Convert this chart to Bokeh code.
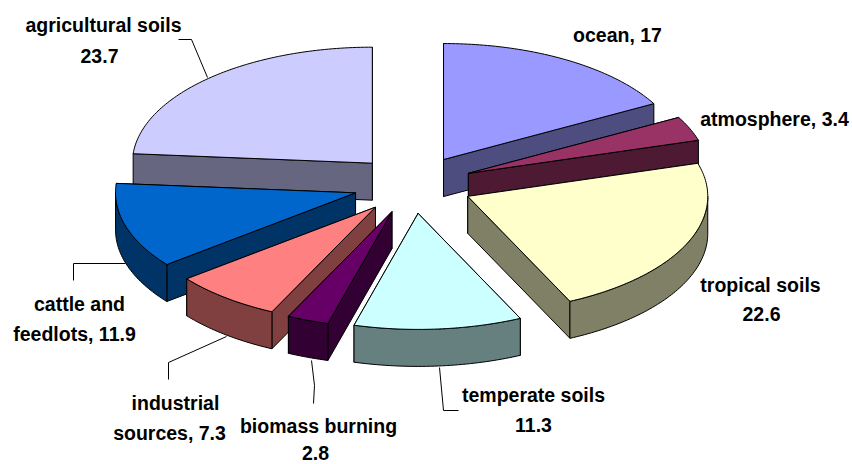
import math
from bokeh.plotting import figure
from bokeh.models import Range1d
from bokeh.core.properties import value
from bokeh.embed import file_html
from bokeh.resources import INLINE

# data
names = ["ocean", "atmosphere", "tropical soils", "temperate soils",
         "biomass burning", "industrial sources", "cattle and feedlots", "agricultural soils"]
values = [17, 3.4, 22.6, 11.3, 2.8, 7.3, 11.9, 23.7]
top_colors = ["#9999FF", "#993366", "#FFFFCC", "#CCFFFF", "#660066", "#FF8080", "#0066CC", "#CCCCFF"]
side_colors = ["#4D4D80", "#4D1933", "#808066", "#668080", "#330033", "#804040", "#003366", "#666680"]
draw_order = [0, 7, 1, 6, 2, 5, 4, 3]

label_text = ["agricultural soils", "23.7", "ocean, 17", "atmosphere, 3.4", "tropical soils", "22.6",
              "temperate soils", "11.3", "biomass burning", "2.8", "industrial", "sources, 7.3",
              "cattle and", "feedlots, 11.9"]
label_x = [103, 99, 617, 774, 760, 761, 533, 533, 318, 315, 175, 169, 79, 74]
label_y = [24, 55, 34, 118, 284, 313, 394, 424, 425, 452, 402, 432, 303, 333]

leader_x = [[178, 191, 207], [73, 73, 125], [168, 168, 226], [313, 314, 311], [458, 443, 439]]
leader_y = [[39, 39, 77], [280, 263, 263], [379, 362, 336], [403, 385, 360], [410, 410, 367]]

# pie geometry (3-D projection)
CX, CY = 412.5, 184
RX, RY = 240, 116
DEPTH = 37
EXPLODE = 60
K = RY / RX

W, H = 852, 464
p = figure(width=W, height=H, output_backend="svg", toolbar_location=None,
           x_range=Range1d(0, W), y_range=Range1d(H, 0),
           min_border=0, outline_line_color=None, x_axis_location=None, y_axis_location=None)
p.grid.visible = False
p.background_fill_color = "white"
p.border_fill_color = "white"


def rim(ax, ay, t):
    return ax + RX * math.sin(t), ay - RY * math.cos(t)


def poly(xs, ys, fill):
    p.patch(xs, ys, fill_color=fill, line_color="#000000", line_width=1, line_join="round")


total = sum(values)
cum = [sum(values[:i]) for i in range(len(values))]
for i in draw_order:
    t0 = 2 * math.pi * cum[i] / total
    t1 = 2 * math.pi * (cum[i] + values[i]) / total
    mid = (t0 + t1) / 2
    ax = CX + EXPLODE * math.sin(mid)
    ay = CY - EXPLODE * K * math.cos(mid)
    n = max(3, int((t1 - t0) * 60))
    arc = [rim(ax, ay, t0 + (t1 - t0) * j / n) for j in range(n + 1)]

    walls = []
    for t in (t0, t1):
        rx, ry = rim(ax, ay, t)
        walls.append(((ay + ry) / 2, [ax, rx, rx, ax], [ay, ry, ry + DEPTH, ay + DEPTH]))
    lo, hi = max(t0, math.pi / 2), min(t1, 3 * math.pi / 2)
    if hi > lo:
        m = max(3, int((hi - lo) * 60))
        a = [rim(ax, ay, lo + (hi - lo) * j / m) for j in range(m + 1)]
        xs = [q[0] for q in a] + [q[0] for q in reversed(a)]
        ys = [q[1] for q in a] + [q[1] + DEPTH for q in reversed(a)]
        walls.append((1e6, xs, ys))
    for _, xs, ys in sorted(walls, key=lambda w: w[0]):
        poly(xs, ys, side_colors[i])
    poly([ax] + [q[0] for q in arc], [ay] + [q[1] for q in arc], top_colors[i])

for xs, ys in zip(leader_x, leader_y):
    p.line(xs, ys, line_color="#000000", line_width=1)

p.text(x=label_x, y=label_y, text=label_text, text_font=value("Liberation Sans"),
       text_font_style="bold", text_font_size="19.5px", text_color="#000000",
       text_align="center", text_baseline="middle")

open("out.html", "w").write(file_html(p, INLINE))
